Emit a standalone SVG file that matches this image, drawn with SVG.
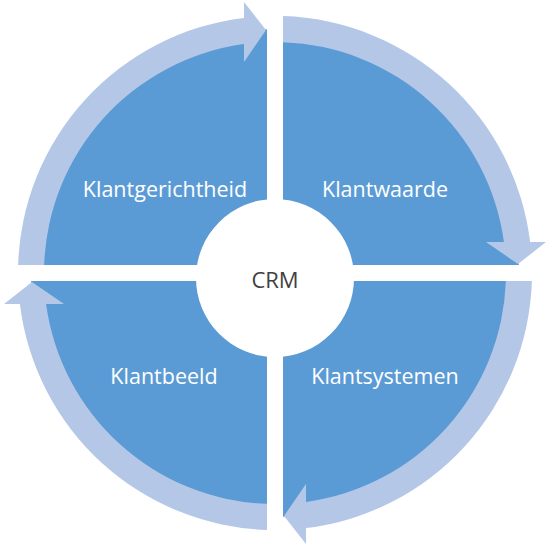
<svg xmlns="http://www.w3.org/2000/svg" width="550" height="550" viewBox="0 0 550 550">
  <defs>
    <style>
      .pie { fill: #5b9bd5; }
      .ring { fill: #b4c7e7; }
      .lbl { font-family: "Open Sans", "Liberation Sans", sans-serif; font-size: 21.5px; fill: #ffffff; text-anchor: middle; }
      .crm { font-family: "Open Sans", "Liberation Sans", sans-serif; font-size: 22px; fill: #404040; text-anchor: middle; }
    </style>
    <path id="pieShape" d="M -8 -8 L -243.87 -8 A 244 244 0 0 1 -8 -243.87 Z"/>
    <path id="arrowShape" d="M -230.86 -8 L -256.88 -8 A 257 257 0 0 1 -31 -255.12 L -31 -271 L -9 -243 L -31 -211 L -31 -228.91 A 231 231 0 0 0 -230.86 -8 Z"/>
  </defs>
  <rect width="550" height="550" fill="#ffffff"/>
  <g id="node-klantgerichtheid">
    <use href="#pieShape" class="pie" transform="translate(275,273)"/>
    <text class="lbl" x="165" y="197">Klantgerichtheid</text>
  </g>
  <g id="node-klantwaarde">
    <use href="#pieShape" class="pie" transform="translate(275,273) rotate(90)"/>
    <text class="lbl" x="385" y="197">Klantwaarde</text>
  </g>
  <g id="node-klantsystemen">
    <use href="#pieShape" class="pie" transform="translate(275,273) rotate(180)"/>
    <text class="lbl" x="385" y="384">Klantsystemen</text>
  </g>
  <g id="node-klantbeeld">
    <use href="#pieShape" class="pie" transform="translate(275,273) rotate(270)"/>
    <text class="lbl" x="164" y="384">Klantbeeld</text>
  </g>
  <g id="connectors">
    <use href="#arrowShape" class="ring" transform="translate(275,273)"/>
    <use href="#arrowShape" class="ring" transform="translate(275,273) rotate(90)"/>
    <use href="#arrowShape" class="ring" transform="translate(275,273) rotate(180)"/>
    <use href="#arrowShape" class="ring" transform="translate(275,273) rotate(270)"/>
  </g>
  <g id="node-crm">
    <circle cx="275" cy="278" r="79" fill="#ffffff"/>
    <text class="crm" x="275" y="288">CRM</text>
  </g>
</svg>
